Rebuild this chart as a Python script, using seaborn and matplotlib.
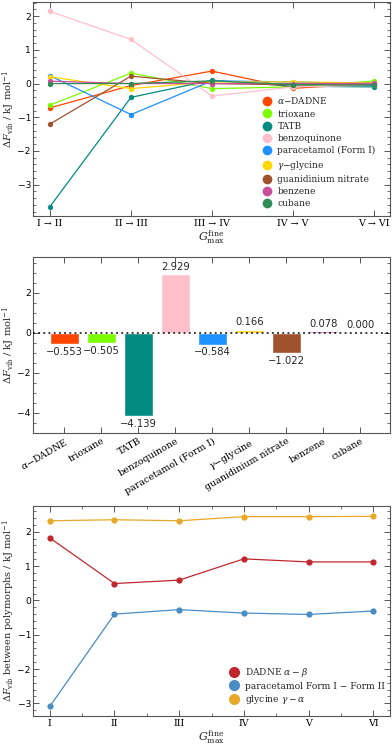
import matplotlib
matplotlib.use("Agg")
import matplotlib.pyplot as plt
from matplotlib.lines import Line2D
from matplotlib.ticker import MultipleLocator
import seaborn as sns
import pandas as pd

# ---------------- data ----------------
compounds = ["α-DADNE", "trioxane", "TATB", "benzoquinone", "paracetamol (Form I)",
             "γ-glycine", "guanidinium nitrate", "benzene", "cubane"]
legend_labels = [r"$\alpha$−DADNE", "trioxane", "TATB", "benzoquinone", "paracetamol (Form I)",
                 r"$\gamma$−glycine", "guanidinium nitrate", "benzene", "cubane"]
colors = ["#FF4500", "#7CFC00", "#008B80", "#FFC0CB", "#1E90FF",
          "#FFD700", "#A0522D", "#C8509B", "#2E8B57"]
steps = ["I → II", "II → III", "III → IV", "IV → V", "V → VI"]

dadne = [-0.72, -0.06, 0.37, -0.14, -0.003]
trioxane = [-0.64, 0.31, -0.15, -0.10, 0.075]
tatb = [-3.65, -0.41, 0.10, -0.08, -0.099]
benzoquinone = [2.14, 1.31, -0.37, -0.10, -0.051]
paracetamol = [0.23, -0.92, 0.08, 0.05, -0.024]
glycine = [0.20, -0.15, 0.05, 0.05, 0.016]
guanidinium = [-1.20, 0.22, 0.00, -0.04, -0.002]
benzene = [0.07, 0.00, 0.00, 0.00, 0.008]
cubane = [0.00, 0.00, 0.08, -0.03, -0.05]
series = [dadne, trioxane, tatb, benzoquinone, paracetamol, glycine, guanidinium, benzene, cubane]

bar_values = [-0.553, -0.505, -4.139, 2.929, -0.584, 0.166, -1.022, 0.078, 0.000]

levels = ["I", "II", "III", "IV", "V", "VI"]
poly_names = [r"DADNE $\alpha-\beta$", "paracetamol Form I − Form II", r"glycine $\gamma-\alpha$"]
poly_colors = ["#C0282D", "#4A8CC4", "#E8A82A"]
dadne_ab = [1.82, 0.49, 0.59, 1.21, 1.12, 1.12]
para_12 = [-3.09, -0.40, -0.27, -0.37, -0.41, -0.31]
gly_ga = [2.32, 2.35, 2.32, 2.44, 2.44, 2.45]
poly_series = [dadne_ab, para_12, gly_ga]

# ---------------- style ----------------
sns.set_theme(style="ticks")
plt.rcParams["font.family"] = ["DejaVu Serif"]
plt.rcParams["mathtext.fontset"] = "dejavuserif"
plt.rcParams["axes.edgecolor"] = "#555555"
plt.rcParams["axes.linewidth"] = 0.8

fig = plt.figure(figsize=(3.92, 7.46), dpi=100)
L, R = 0.0842, 0.9949
ax1 = fig.add_axes([L, 0.7105, R - L, 0.9973 - 0.7105])
ax2 = fig.add_axes([L, 0.4196, R - L, 0.6555 - 0.4196])
ax3 = fig.add_axes([L, 0.0402, R - L, 0.3217 - 0.0402])

def style_ticks(ax):
    ax.tick_params(which="both", direction="in", top=True, right=True, colors="#555555")
    ax.tick_params(which="major", length=4, width=0.7)
    ax.tick_params(which="minor", length=2, width=0.6)
    ax.tick_params(axis="y", pad=1.5)
    ax.tick_params(axis="x", pad=2.5)
    for lab in ax.get_yticklabels():
        lab.set_fontfamily("DejaVu Sans")
        lab.set_fontsize(6.6)
        lab.set_color("black")
    for lab in ax.get_xticklabels():
        lab.set_color("black")

# ---------------- panel 1 ----------------
rows = []
for name, vals in zip(compounds, series):
    for i, v in enumerate(vals):
        rows.append({"compound": name, "step": i, "val": v})
df1 = pd.DataFrame(rows)
sns.lineplot(data=df1, x="step", y="val", hue="compound", hue_order=compounds,
             palette=dict(zip(compounds, colors)), marker="o", markersize=3.8,
             markeredgewidth=0, linewidth=0.9, ax=ax1, legend=False, sort=False)
ax1.set_xlim(-0.21, 4.2)
ax1.set_ylim(-3.93, 2.42)
ax1.set_xticks(range(len(steps)))
ax1.set_xticklabels(steps, fontsize=6.8)
ax1.yaxis.set_major_locator(MultipleLocator(1))
ax1.yaxis.set_minor_locator(MultipleLocator(0.2))
ax1.set_xlabel(r"$G^{\rm fine}_{\rm max}$", fontsize=8, labelpad=0)
ax1.set_ylabel(r"$\Delta F_{\rm vib}$ / kJ mol$^{-1}$", fontsize=7.2, labelpad=0.5)
style_ticks(ax1)
h1 = [Line2D([], [], marker="o", linestyle="none", color=c, markersize=7, markeredgewidth=0)
      for c in colors]
ax1.legend(h1, legend_labels, loc="lower right", bbox_to_anchor=(0.975, 0.01), frameon=False,
           fontsize=6.5, handletextpad=0.15, labelspacing=0.36, borderaxespad=0.2)

# ---------------- panel 2 ----------------
df2 = pd.DataFrame({"compound": compounds, "val": bar_values})
sns.barplot(data=df2, x="compound", y="val", hue="compound", hue_order=compounds,
            order=compounds, palette=dict(zip(compounds, colors)), width=0.78,
            dodge=False, legend=False, ax=ax2, saturation=1)
for cont, v in zip(ax2.containers, bar_values):
    ax2.bar_label(cont, labels=[f"{v:.3f}".replace("-", "−")], padding=2,
                  fontsize=7.2, fontfamily="DejaVu Sans")
ax2.axhline(0, color="black", linestyle=(0, (1.2, 2.2)), linewidth=1.1, zorder=5)
ax2.set_xlim(-0.85, 8.8)
ax2.set_ylim(-5.0, 3.8)
ax2.set_xticks(range(len(compounds)))
ax2.set_xticklabels(legend_labels, rotation=30, ha="right", rotation_mode="anchor", fontsize=6.8)
ax2.yaxis.set_major_locator(MultipleLocator(2))
ax2.yaxis.set_minor_locator(MultipleLocator(0.5))
ax2.set_xlabel("")
ax2.set_ylabel(r"$\Delta F_{\rm vib}$ / kJ mol$^{-1}$", fontsize=7.2, labelpad=0.5)
style_ticks(ax2)

# ---------------- panel 3 ----------------
rows = []
for name, vals in zip(poly_names, poly_series):
    for i, v in enumerate(vals):
        rows.append({"pair": name, "level": i, "val": v})
df3 = pd.DataFrame(rows)
sns.lineplot(data=df3, x="level", y="val", hue="pair", hue_order=poly_names,
             palette=dict(zip(poly_names, poly_colors)), marker="o", markersize=4.5,
             markeredgewidth=0, linewidth=0.9, ax=ax3, legend=False, sort=False)
ax3.set_xlim(-0.26, 5.26)
ax3.set_ylim(-3.37, 2.75)
ax3.set_xticks(range(len(levels)))
ax3.set_xticklabels(levels, fontsize=6.8)
ax3.xaxis.set_minor_locator(MultipleLocator(0.5))
ax3.yaxis.set_major_locator(MultipleLocator(1))
ax3.yaxis.set_minor_locator(MultipleLocator(0.2))
ax3.set_xlabel(r"$G^{\rm fine}_{\rm max}$", fontsize=8, labelpad=0)
ax3.set_ylabel(r"$\Delta F_{\rm vib}$ between polymorphs / kJ mol$^{-1}$", fontsize=7.0, labelpad=0.5)
style_ticks(ax3)
h3 = [Line2D([], [], marker="o", linestyle="none", color=c, markersize=8, markeredgewidth=0)
      for c in poly_colors]
ax3.legend(h3, poly_names, loc="lower right", bbox_to_anchor=(1.0, 0.02), frameon=False,
           fontsize=6.6, handletextpad=0.15, labelspacing=0.3, borderaxespad=0.2)

fig.savefig("out.png", dpi=100)
